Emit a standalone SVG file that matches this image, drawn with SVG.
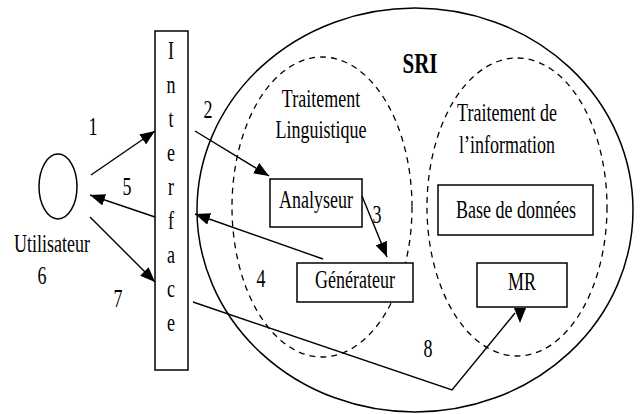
<svg xmlns="http://www.w3.org/2000/svg" width="640" height="414" viewBox="0 0 640 414">
<style>
.t{font-family:"Liberation Serif","Times New Roman",serif;font-size:18px;fill:#000;text-anchor:middle}
.b{font-weight:bold;font-size:21px}
.box{fill:#fff;stroke:#000;stroke-width:1.5}
.solid{fill:none;stroke:#000;stroke-width:1.5}
.dash{fill:none;stroke:#000;stroke-width:1.3;stroke-dasharray:6 5}
.ln{fill:none;stroke:#000;stroke-width:1.4}
.arr{marker-end:url(#ah)}
</style>
<defs>
<marker id="ah" markerUnits="userSpaceOnUse" markerWidth="16" markerHeight="12" refX="15" refY="6" orient="auto">
<path d="M0,0 L15,6 L0,12 z" fill="#000"/>
</marker>
</defs>
<rect width="640" height="414" fill="#fff"/>
<g id="sri">
<ellipse class="solid" cx="415" cy="210" rx="218" ry="202"/>
<text class="t b" transform="translate(420,73) scale(1,1.45)">SRI</text>
</g>
<g id="traitement-linguistique">
<ellipse class="dash" cx="322" cy="207" rx="90" ry="150"/>
<text class="t" transform="translate(321,107) scale(1,1.45)">Traitement</text>
<text class="t" transform="translate(321,138) scale(1,1.45)">Linguistique</text>
</g>
<g id="traitement-information">
<ellipse class="dash" cx="517" cy="207" rx="90" ry="149"/>
<text class="t" transform="translate(507,121) scale(1,1.45)">Traitement de</text>
<text class="t" transform="translate(507,153) scale(1,1.45)">l’information</text>
</g>
<g id="utilisateur">
<ellipse class="solid" cx="58" cy="186.5" rx="19" ry="32.5"/>
<text class="t" transform="translate(52,252) scale(1,1.45)">Utilisateur</text>
<text class="t" transform="translate(42,284) scale(1,1.45)">6</text>
</g>
<g id="interface">
<rect class="box" x="155" y="31" width="33" height="339"/>
<text class="t" transform="translate(171,59) scale(1,1.45)">I</text>
<text class="t" transform="translate(171,93) scale(1,1.45)">n</text>
<text class="t" transform="translate(171,127) scale(1,1.45)">t</text>
<text class="t" transform="translate(171,161) scale(1,1.45)">e</text>
<text class="t" transform="translate(171,195) scale(1,1.45)">r</text>
<text class="t" transform="translate(171,229) scale(1,1.45)">f</text>
<text class="t" transform="translate(171,263) scale(1,1.45)">a</text>
<text class="t" transform="translate(171,297) scale(1,1.45)">c</text>
<text class="t" transform="translate(171,331) scale(1,1.45)">e</text>
</g>
<g id="analyseur">
<rect class="box" x="270" y="179" width="92" height="48"/>
<text class="t" transform="translate(316,208) scale(1,1.45)">Analyseur</text>
</g>
<g id="generateur">
<rect class="box" x="297" y="263" width="116" height="39"/>
<text class="t" transform="translate(355,288) scale(1,1.45)">Générateur</text>
</g>
<g id="base-de-donnees">
<rect class="box" x="438" y="185" width="155" height="50"/>
<text class="t" transform="translate(516,218) scale(1,1.45)">Base de données</text>
</g>
<g id="mr">
<rect class="box" x="477" y="263" width="90" height="44"/>
<text class="t" transform="translate(522,290) scale(1,1.45)">MR</text>
</g>
<g id="connectors">
<path class="ln arr" d="M91,175 L155,131"/>
<path class="ln arr" d="M195,131 L269,176"/>
<path class="ln arr" d="M155,217 L90,195"/>
<path class="ln arr" d="M90,217 L155,282"/>
<path class="ln arr" d="M362,196 L387,257"/>
<path class="ln arr" d="M323,259 L195,214"/>
<path class="ln" d="M193,302 L452,390 L515,313"/>
<polygon points="514,308 526,308 520,323" fill="#000"/>
<text class="t" transform="translate(93,135) scale(1,1.45)">1</text>
<text class="t" transform="translate(208,118) scale(1,1.45)">2</text>
<text class="t" transform="translate(377,223) scale(1,1.45)">3</text>
<text class="t" transform="translate(261,287) scale(1,1.45)">4</text>
<text class="t" transform="translate(127,195) scale(1,1.45)">5</text>
<text class="t" transform="translate(118,307) scale(1,1.45)">7</text>
<text class="t" transform="translate(428,357) scale(1,1.45)">8</text>
</g>
</svg>
